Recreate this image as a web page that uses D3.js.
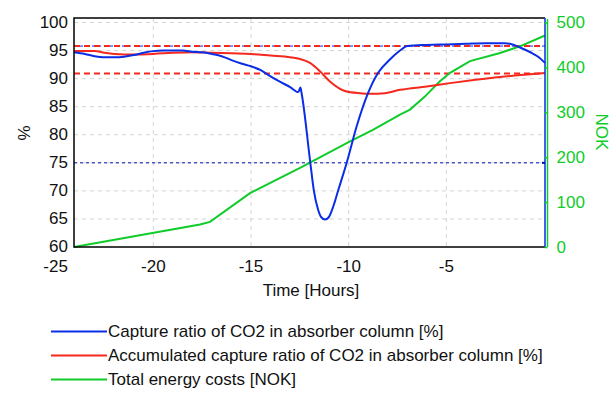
<!DOCTYPE html>
<html>
<head>
<meta charset="utf-8">
<script src="https://cdn.jsdelivr.net/npm/d3@7"></script>
<style>
  body { margin: 0; background: #fff; }
  svg text { font-family: "Liberation Sans", Arial, sans-serif; }
</style>
</head>
<body>
<div id="chart"></div>
<script>
const width = 614;
const height = 395;

// capture ratio [%]
const captureTime = [-24.06, -23.5, -23, -22.5, -22, -21.5, -21, -20.5, -20, -19.5, -19, -18.5, -18, -17.5, -17, -16.5, -16, -15.5, -15, -14.5, -14, -13.5, -13, -12.58, -12.47, -12.41, -11.98, -11.78, -11.56, -11.4, -11.21, -11.02, -10.85, -10.5, -10.1, -9.59, -9.01, -8.5, -7.89, -7.37, -7, -6, -5, -4, -3, -2, -1.75, -1.2, -0.7, -0.3, 0.05];
const captureValue = [94.7, 94.4, 94.0, 93.8, 93.8, 93.9, 94.2, 94.6, 94.9, 95.0, 95.0, 95.0, 94.8, 94.7, 94.4, 94.0, 93.3, 92.7, 92.2, 91.5, 90.4, 89.4, 88.5, 87.6, 88.4, 87.4, 75.5, 70, 66.6, 65.3, 64.9, 65.3, 66.6, 70.5, 75, 81.5, 87.4, 91, 93.4, 95.0, 95.8, 96.0, 96.1, 96.2, 96.3, 96.3, 96.2, 95.5, 94.7, 93.9, 92.8];

// accumulated capture ratio [%]
const accumTime = [-24.06, -23, -22.5, -22, -21, -20, -19, -18, -17, -16, -15, -14, -13, -12.49, -11.98, -11.47, -10.96, -10.19, -9.42, -8.91, -8.15, -7.37, -6, -4.81, -3.5, -2.25, -1, 0.05];
const accumValue = [94.9, 94.9, 94.6, 94.4, 94.3, 94.4, 94.6, 94.7, 94.6, 94.5, 94.4, 94.1, 93.8, 93.5, 92.8, 91.3, 89.5, 87.8, 87.4, 87.3, 87.4, 88.0, 88.6, 89.2, 89.8, 90.3, 90.7, 91.0];

// total energy costs [NOK]
const costTime = [-24.06, -17.61, -17.1, -15.05, -12.49, -9.93, -8.76, -7.37, -6.86, -6.1, -5.33, -4.81, -3.79, -2.25, -1.23, 0.05];
const costValue = [0, 50, 56, 120, 176, 235, 261, 295, 306, 335, 369, 388, 414, 432, 447, 471];

const xTicks = [-25, -20, -15, -10, -5];
const xGrid = [-20, -15, -10, -5];
const yLeftTicks = [60, 65, 70, 75, 80, 85, 90, 95, 100];
const yLeftGrid = [65, 70, 75, 80, 85, 90, 95, 100];
const yRightTicks = [0, 100, 200, 300, 400, 500];
const redLimits = [95.8, 90.9];
const blueLimits = [95.8, 75];

const legendNames = [
  'Capture ratio of CO2 in absorber column [%]',
  'Accumulated capture ratio of CO2 in absorber column [%]',
  'Total energy costs [NOK]',
];

const blue = '#0a2de6';
const red = '#f5281e';
const green = '#10cc2a';
const fontSize = 17;

const plot = { left: 74, right: 545, top: 18, bottom: 247 };

const svg = d3.select('#chart').append('svg')
  .attr('width', width)
  .attr('height', height);

const x = d3.scaleLinear().domain([-24.06, 0.05]).range([plot.left, plot.right]);
const yL = d3.scaleLinear().domain([60, 100]).range([plot.bottom, 22.5]);
const yR = d3.scaleLinear().domain([0, 500]).range([plot.bottom, 22.5]);

// grid
svg.append('g').selectAll('line').data(yLeftGrid).enter().append('line')
  .attr('x1', plot.left).attr('x2', plot.right)
  .attr('y1', (d) => yL(d)).attr('y2', (d) => yL(d))
  .attr('stroke', '#d4d4d4').attr('stroke-dasharray', '4,4');
svg.append('g').selectAll('line').data(xGrid).enter().append('line')
  .attr('x1', (d) => x(d)).attr('x2', (d) => x(d))
  .attr('y1', plot.top).attr('y2', plot.bottom)
  .attr('stroke', '#d4d4d4').attr('stroke-dasharray', '4,4');

// limit lines
svg.append('g').selectAll('line').data(blueLimits).enter().append('line')
  .attr('x1', plot.left).attr('x2', plot.right)
  .attr('y1', (d) => yL(d)).attr('y2', (d) => yL(d))
  .attr('stroke', (d, i) => (i === 0 ? blue : '#0010b0'))
  .attr('stroke-width', 1)
  .attr('stroke-dasharray', '3,3');
svg.append('g').selectAll('line').data(redLimits).enter().append('line')
  .attr('x1', plot.left).attr('x2', plot.right)
  .attr('y1', (d) => yL(d)).attr('y2', (d) => yL(d))
  .attr('stroke', red).attr('stroke-width', 2)
  .attr('stroke-dasharray', '6,4');

// series
const lineL = d3.line().x((d) => x(d[0])).y((d) => yL(d[1]));
const lineR = d3.line().x((d) => x(d[0])).y((d) => yR(d[1]));

svg.append('path')
  .datum(costTime.map((t, i) => [t, costValue[i]]))
  .attr('d', lineR).attr('fill', 'none').attr('stroke', green).attr('stroke-width', 2);
svg.append('path')
  .datum(accumTime.map((t, i) => [t, accumValue[i]]))
  .attr('d', lineL.curve(d3.curveMonotoneX)).attr('fill', 'none').attr('stroke', red).attr('stroke-width', 2);
svg.append('path')
  .datum(captureTime.map((t, i) => [t, captureValue[i]]))
  .attr('d', d3.line().x((d) => x(d[0])).y((d) => yL(d[1])).curve(d3.curveMonotoneX))
  .attr('fill', 'none').attr('stroke', blue).attr('stroke-width', 2);

// frame
svg.append('path')
  .attr('d', `M${plot.right},${plot.top} H${plot.left} V${plot.bottom} H${plot.right}`)
  .attr('fill', 'none').attr('stroke', '#000').attr('stroke-width', 1.5);
svg.append('line')
  .attr('x1', plot.right).attr('x2', plot.right)
  .attr('y1', plot.top).attr('y2', plot.bottom)
  .attr('stroke', blue).attr('stroke-width', 1.5);
svg.append('line')
  .attr('x1', plot.right - 3).attr('x2', plot.right)
  .attr('y1', yL(75)).attr('y2', yL(75))
  .attr('stroke', '#0010b0').attr('stroke-width', 2);

// left axis labels
svg.append('g').selectAll('text').data(yLeftTicks).enter().append('text')
  .attr('x', 68).attr('y', (d) => yL(d)).attr('dy', '0.32em')
  .attr('text-anchor', 'end').attr('font-size', fontSize).attr('fill', '#111')
  .text((d) => d);

// x axis labels
svg.append('g').selectAll('text').data(xTicks).enter().append('text')
  .attr('x', (d) => x(d)).attr('y', 272)
  .attr('text-anchor', 'middle').attr('font-size', fontSize).attr('fill', '#111')
  .text((d) => d);

// right axis (green)
const rightAxis = svg.append('g')
  .attr('transform', `translate(${plot.right + 2.5},0)`)
  .call(d3.axisRight(yR).tickValues(yRightTicks).tickSize(-3).tickPadding(9));
rightAxis.select('.domain').attr('stroke', green).attr('stroke-width', 1.5)
  .attr('d', `M0,${plot.top + 1}V${plot.bottom}`);
rightAxis.selectAll('.tick line').attr('stroke', green).attr('stroke-width', 1.5);
rightAxis.selectAll('.tick text')
  .attr('fill', green).attr('font-size', fontSize)
  .attr('font-family', '"Liberation Sans", Arial, sans-serif');

// axis titles
svg.append('text')
  .attr('transform', 'translate(30,133) rotate(-90)')
  .attr('text-anchor', 'middle').attr('font-size', fontSize).attr('fill', '#111')
  .text('%');
svg.append('text')
  .attr('transform', 'translate(596,132) rotate(90)')
  .attr('text-anchor', 'middle').attr('font-size', fontSize).attr('fill', green)
  .text('NOK');
svg.append('text')
  .attr('x', 311).attr('y', 296)
  .attr('text-anchor', 'middle').attr('font-size', fontSize).attr('fill', '#111')
  .text('Time [Hours]');

// legend
const legendColors = [blue, red, green];
const legend = svg.append('g').selectAll('g').data(legendNames).enter().append('g')
  .attr('transform', (_, i) => `translate(0,${331.5 + i * 24})`);
legend.append('line')
  .attr('x1', 51).attr('x2', 107).attr('y1', 0).attr('y2', 0)
  .attr('stroke', (_, i) => legendColors[i]).attr('stroke-width', 2);
legend.append('text')
  .attr('x', 108).attr('y', 0).attr('dy', '0.35em')
  .attr('font-size', fontSize).attr('fill', '#111')
  .text((d) => d);
</script>
</body>
</html>
